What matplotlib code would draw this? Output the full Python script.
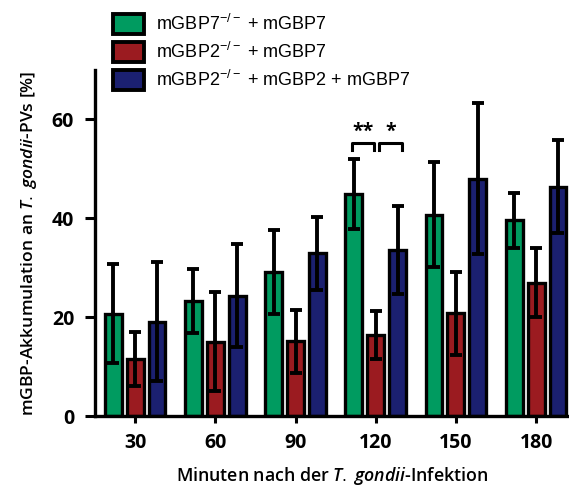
import matplotlib
matplotlib.use("Agg")
import matplotlib.pyplot as plt
import numpy as np
from matplotlib.patches import Patch

times = ["30", "60", "90", "120", "150", "180"]
series = ["mGBP7$^{-/-}$ + mGBP7", "mGBP2$^{-/-}$ + mGBP7", "mGBP2$^{-/-}$ + mGBP2 + mGBP7"]
ko7_mean = [20.7, 23.3, 29.1, 44.9, 40.7, 39.6]
ko7_err = [10.0, 6.5, 8.5, 7.1, 10.6, 5.6]
ko2_mean = [11.5, 15.0, 15.1, 16.4, 20.8, 27.0]
ko2_err = [5.4, 10.0, 6.4, 4.9, 8.4, 7.0]
resc_mean = [19.1, 24.3, 32.9, 33.5, 48.0, 46.4]
resc_err = [12.0, 10.4, 7.4, 8.9, 15.3, 9.4]

COLORS = ["#009b60", "#9b1b20", "#1b2070"]
means = [ko7_mean, ko2_mean, resc_mean]
errs = [ko7_err, ko2_err, resc_err]

plt.rcParams["font.family"] = ["Open Sans", "DejaVu Sans"]
plt.rcParams["mathtext.fontset"] = "custom"
plt.rcParams["mathtext.rm"] = "Liberation Sans"
plt.rcParams["mathtext.it"] = "Open Sans:italic:semibold"

fig = plt.figure(figsize=(5.69, 4.86), dpi=100)
ax = fig.add_axes([0.167, 0.144, 0.833, 0.712])

x = np.arange(len(times))
step, width = 0.273, 0.21
for i in range(3):
    xi = x + (i - 1) * step
    ax.bar(xi, means[i], width, color=COLORS[i], edgecolor="black", linewidth=2.4, zorder=2)
    ax.errorbar(xi, means[i], yerr=errs[i], fmt="none", ecolor="black",
                elinewidth=2.8, capsize=4, capthick=2.8, zorder=3)

# significance brackets at 120 min
def bracket(x0, x1, y, label):
    ax.plot([x0, x0, x1, x1], [y - 1.4, y, y, y - 1.4], color="black", lw=2.2,
            clip_on=False, zorder=4)
    ax.text((x0 + x1) / 2, y + 0.3, label, ha="center", va="bottom",
            fontsize=14, fontweight="bold")

bracket(3 - step - 0.02, 3 - 0.02, 55.2, "**")
bracket(3 + 0.04, 3 + step + 0.05, 55.2, "*")

ax.set_xlim(-0.5, 5.41)
ax.set_ylim(0, 70)
ax.set_yticks([0, 20, 40, 60])
ax.set_xticks(x)
ax.set_xticklabels(times)
ax.tick_params(axis="both", direction="out", width=2.2, labelsize=14)
ax.tick_params(axis="y", length=7, pad=8)
ax.tick_params(axis="x", length=5, pad=7)
for lab in ax.get_xticklabels() + ax.get_yticklabels():
    lab.set_fontweight("bold")
for s in ["top", "right"]:
    ax.spines[s].set_visible(False)
for s in ["left", "bottom"]:
    ax.spines[s].set_linewidth(2.4)

ax.set_ylabel("mGBP-Akkumulation an $\\it{T.}$ $\\it{gondii}$-PVs [%]", fontsize=12.6,
              fontweight="semibold", labelpad=9)
ax.set_xlabel("Minuten nach der $\\it{T.}$ $\\it{gondii}$-Infektion", fontsize=12.8,
              fontweight="semibold", labelpad=9)

handles = [Patch(facecolor=c, edgecolor="black", linewidth=2.8) for c in COLORS]
fig.legend(handles, series, loc="upper left", bbox_to_anchor=(0.17, 1.005),
           frameon=False, prop={"family": ["Liberation Sans"], "size": 13},
           handlelength=1.7, handleheight=1.35, handletextpad=0.7, labelspacing=0.42)

fig.savefig("out.png", dpi=100)
